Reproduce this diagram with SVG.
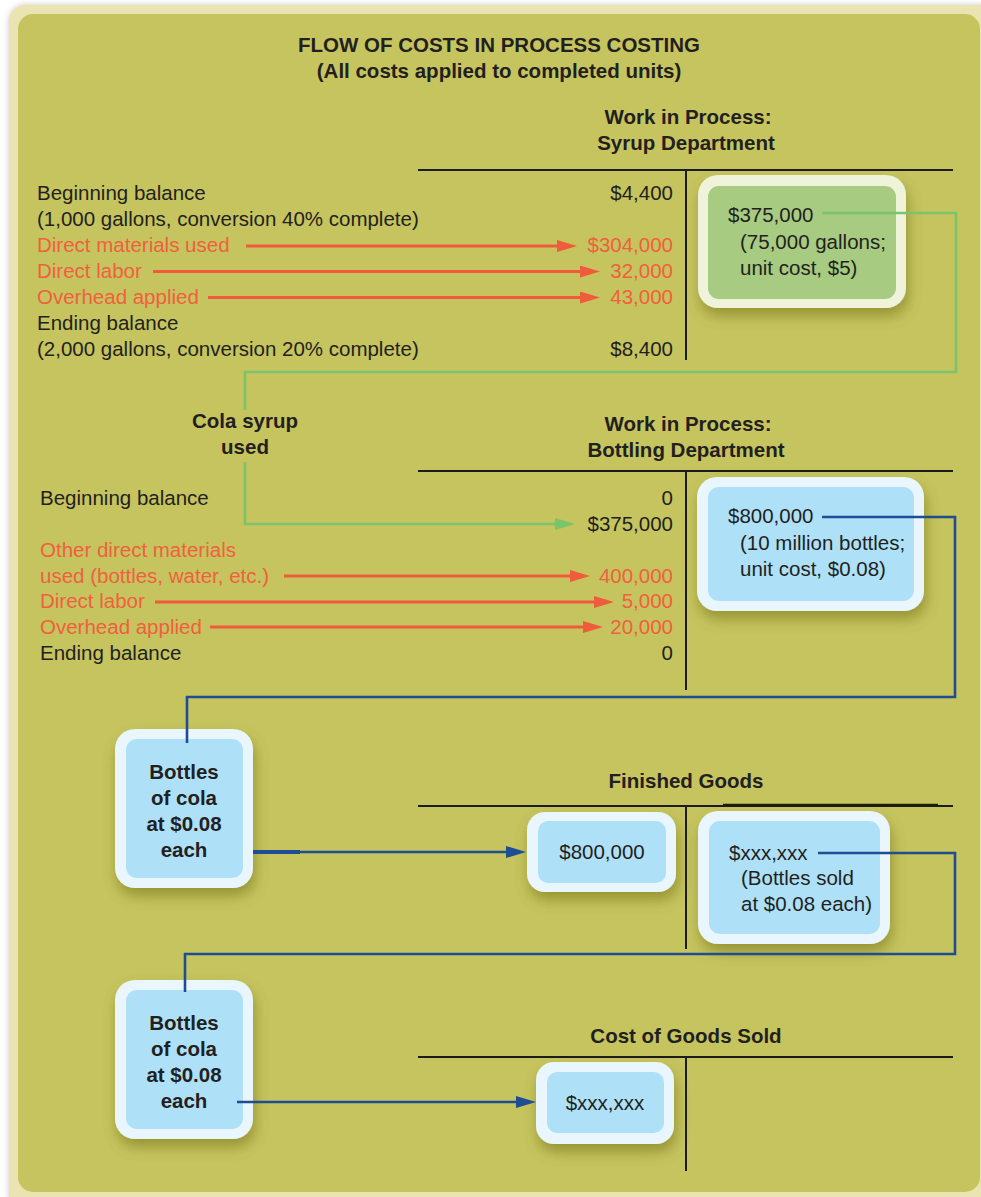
<svg xmlns="http://www.w3.org/2000/svg" width="981" height="1197" viewBox="0 0 981 1197">
<defs>
<style>
text{font-family:"Liberation Sans",Arial,Helvetica,sans-serif;font-size:20.5px;fill:#231f20}
.b{font-weight:bold}
.m{text-anchor:middle}
.e{text-anchor:end}
.r{fill:#f0603f}
.tl{stroke:#1c1c1c;stroke-width:2;fill:none}
.red{stroke:#ef5b3b;stroke-width:3;fill:none}
.grn{stroke:#7cc46b;stroke-width:2.6;fill:none}
.blu{stroke:#1f4d94;stroke-width:2.6;fill:none}
.ob{fill:#eaf6fd}
.ib{fill:#aee1f8}
.og{fill:#eef3da}
.ig{fill:#a6cb81}
</style>
<filter id="sh" x="-30%" y="-30%" width="160%" height="170%">
<feDropShadow dx="2" dy="8" stdDeviation="7" flood-color="#5a5a10" flood-opacity="0.45"/>
</filter>
<filter id="fsh" x="-5%" y="-5%" width="110%" height="110%">
<feDropShadow dx="0" dy="0" stdDeviation="3" flood-color="#888" flood-opacity="0.45"/>
</filter>
<marker id="ar" markerUnits="userSpaceOnUse" markerWidth="20" markerHeight="12" refX="8" refY="6" orient="auto"><path d="M0,0 L20,6 L0,12 z" fill="#ef5b3b"/></marker>
<marker id="ag" markerUnits="userSpaceOnUse" markerWidth="20" markerHeight="12" refX="8" refY="6" orient="auto"><path d="M0,0 L20,6 L0,12 z" fill="#7cc46b"/></marker>
<marker id="ab" markerUnits="userSpaceOnUse" markerWidth="20" markerHeight="12" refX="8" refY="6" orient="auto"><path d="M0,0 L20,6 L0,12 z" fill="#1f4d94"/></marker>
</defs>
<rect width="981" height="1197" fill="#ffffff"/>
<g id="frame">
<rect x="9" y="5" width="990" height="1205" rx="16" fill="#e9e4b2" filter="url(#fsh)"/>
<rect x="18" y="14" width="962" height="1178" rx="15" fill="#c6c45e"/>
</g>
<g id="title">
<text class="b m" x="499" y="52">FLOW OF COSTS IN PROCESS COSTING</text>
<text class="b m" x="499" y="78">(All costs applied to completed units)</text>
</g>
<g id="syrup-account">
<text class="b m" x="688" y="124">Work in Process:</text>
<text class="b m" x="686" y="150">Syrup Department</text>
<path class="tl" d="M418,170 H953 M686,170 V360"/>
<text x="37" y="200">Beginning balance</text>
<text x="37" y="226">(1,000 gallons, conversion 40% complete)</text>
<text class="r" x="37" y="252">Direct materials used</text>
<text class="r" x="37" y="278">Direct labor</text>
<text class="r" x="37" y="304">Overhead applied</text>
<text x="37" y="330">Ending balance</text>
<text x="37" y="356">(2,000 gallons, conversion 20% complete)</text>
<text class="e" x="673" y="200">$4,400</text>
<text class="e r" x="673" y="252">$304,000</text>
<text class="e r" x="673" y="278">32,000</text>
<text class="e r" x="673" y="304">43,000</text>
<text class="e" x="673" y="356">$8,400</text>
</g>
<g id="syrup-box">
<rect class="og" x="698" y="175" width="208" height="133" rx="20" filter="url(#sh)"/>
<rect class="ig" x="708" y="186" width="188" height="113" rx="11"/>
<text x="728" y="222">$375,000</text>
<text x="740" y="249">(75,000 gallons;</text>
<text x="740" y="275">unit cost, $5)</text>
</g>
<g id="cola-label">
<text class="b m" x="245" y="428">Cola syrup</text>
<text class="b m" x="245" y="454">used</text>
</g>
<g id="bottling-account">
<text class="b m" x="688" y="431">Work in Process:</text>
<text class="b m" x="686" y="457">Bottling Department</text>
<path class="tl" d="M418,471 H953 M686,471 V690"/>
<text x="40" y="505">Beginning balance</text>
<text class="r" x="40" y="557">Other direct materials</text>
<text class="r" x="40" y="583">used (bottles, water, etc.)</text>
<text class="r" x="40" y="608">Direct labor</text>
<text class="r" x="40" y="634">Overhead applied</text>
<text x="40" y="660">Ending balance</text>
<text class="e" x="673" y="505">0</text>
<text class="e" x="673" y="531">$375,000</text>
<text class="e r" x="673" y="583">400,000</text>
<text class="e r" x="673" y="608">5,000</text>
<text class="e r" x="673" y="634">20,000</text>
<text class="e" x="673" y="660">0</text>
</g>
<g id="bottling-box">
<rect class="ob" x="697" y="477" width="227" height="134" rx="20" filter="url(#sh)"/>
<rect class="ib" x="708" y="487" width="206" height="114" rx="11"/>
<text x="728" y="523">$800,000</text>
<text x="740" y="550">(10 million bottles;</text>
<text x="740" y="576">unit cost, $0.08)</text>
</g>
<g id="bottles-box-1">
<rect class="ob" x="115" y="729" width="138" height="159" rx="20" filter="url(#sh)"/>
<rect class="ib" x="126" y="739" width="117" height="139" rx="11"/>
<text class="b m" x="184" y="779">Bottles</text>
<text class="b m" x="184" y="805">of cola</text>
<text class="b m" x="184" y="831">at $0.08</text>
<text class="b m" x="184" y="857">each</text>
</g>
<g id="finished-goods-account">
<text class="b m" x="686" y="788">Finished Goods</text>
<path class="tl" d="M418,806 H953 M686,806 V949"/>
<path d="M723,805 H938" stroke="#1c1c00" stroke-width="2.5"/>
</g>
<g id="fg-in-box">
<rect class="ob" x="527" y="812" width="149" height="80" rx="18" filter="url(#sh)"/>
<rect class="ib" x="538" y="821" width="128" height="62" rx="10"/>
<text class="m" x="602" y="859">$800,000</text>
</g>
<g id="fg-out-box">
<rect class="ob" x="698" y="811" width="192" height="133" rx="20" filter="url(#sh)"/>
<rect class="ib" x="709" y="821" width="171" height="113" rx="11"/>
<text x="729" y="860">$xxx,xxx</text>
<text x="741" y="885">(Bottles sold</text>
<text x="741" y="911">at $0.08 each)</text>
</g>
<g id="bottles-box-2">
<rect class="ob" x="115" y="980" width="138" height="159" rx="20" filter="url(#sh)"/>
<rect class="ib" x="126" y="990" width="117" height="139" rx="11"/>
<text class="b m" x="184" y="1030">Bottles</text>
<text class="b m" x="184" y="1056">of cola</text>
<text class="b m" x="184" y="1082">at $0.08</text>
<text class="b m" x="184" y="1108">each</text>
</g>
<g id="cogs-account">
<text class="b m" x="686" y="1043">Cost of Goods Sold</text>
<path class="tl" d="M418,1057 H953 M686,1057 V1171"/>
</g>
<g id="cogs-box">
<rect class="ob" x="536" y="1062" width="138" height="82" rx="18" filter="url(#sh)"/>
<rect class="ib" x="547" y="1072" width="117" height="61" rx="10"/>
<text class="m" x="605" y="1110">$xxx,xxx</text>
</g>
<g id="connectors">
<path class="red" d="M246,246 H565" marker-end="url(#ar)"/>
<path class="red" d="M153,271.5 H588" marker-end="url(#ar)"/>
<path class="red" d="M208,297.5 H588" marker-end="url(#ar)"/>
<path class="grn" d="M822,213 H956 V372 H245 V410"/>
<path class="grn" d="M245,462 V524 H563" marker-end="url(#ag)"/>
<path class="red" d="M284,576 H578" marker-end="url(#ar)"/>
<path class="red" d="M155,602 H602" marker-end="url(#ar)"/>
<path class="red" d="M210,627 H591" marker-end="url(#ar)"/>
<path class="blu" d="M822,517 H955 V697 H187 V743"/>
<path d="M253,852 H300" stroke="#1f4d94" stroke-width="4" fill="none"/>
<path class="blu" d="M298,852 H514" marker-end="url(#ab)"/>
<path class="blu" d="M818,853 H955 V954 H185 V992"/>
<path class="blu" d="M237,1102 H524" marker-end="url(#ab)"/>
</g>
</svg>
